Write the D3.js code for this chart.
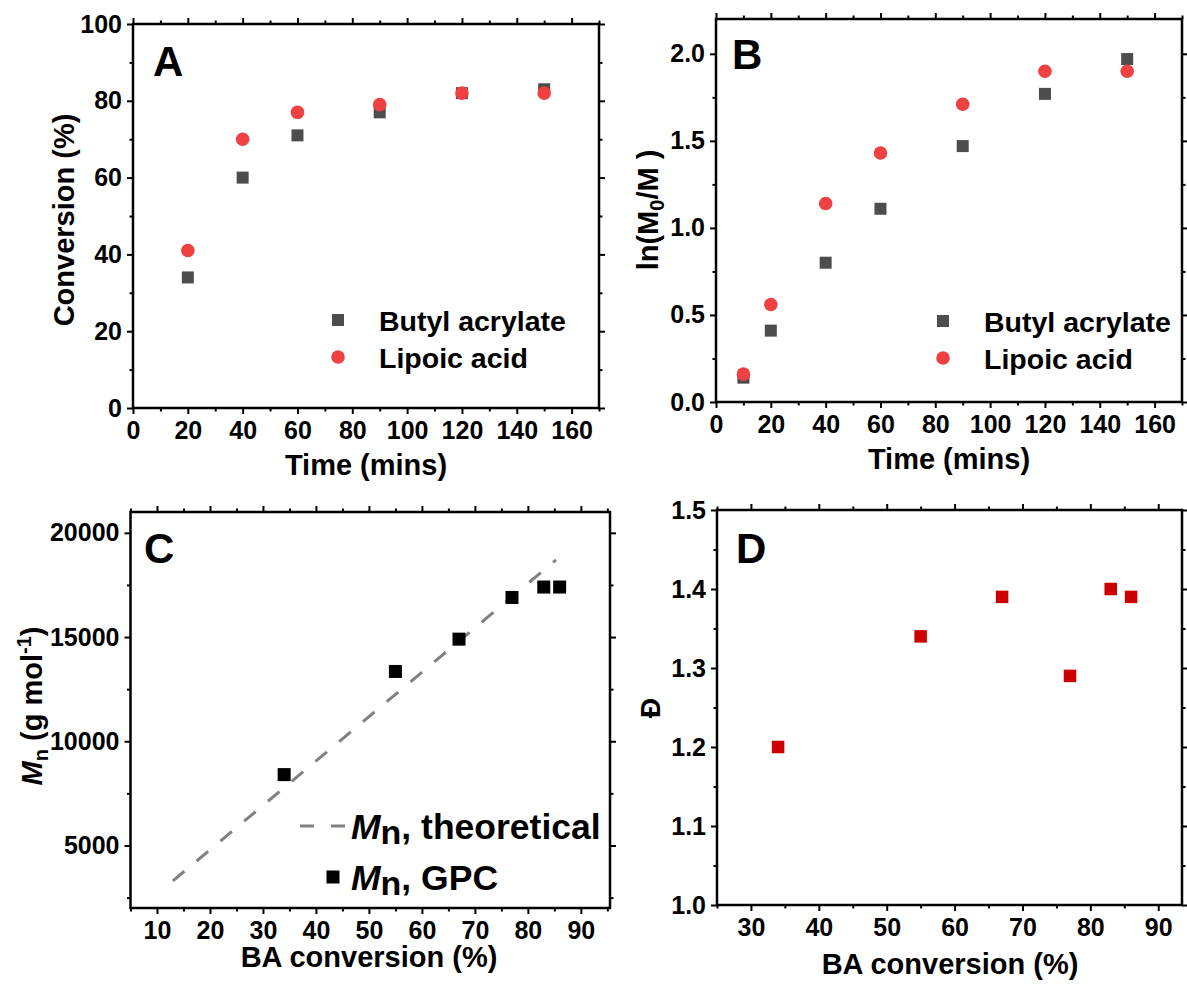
<!DOCTYPE html>
<html>
<head>
<meta charset="utf-8">
<script src="https://cdn.jsdelivr.net/npm/d3@7"></script>
<style>
  body { margin: 0; background: #fff; }
  svg { display: block; font-family: 'Liberation Sans', Arial, sans-serif; font-weight: bold; }
</style>
</head>
<body>
<svg id="chart" width="1187" height="989"></svg>
<script>
// Panel A: conversion vs time
const timeA = [20, 40, 60, 90, 120, 150];
const baConversionA = [34, 60, 71, 77, 82, 83];
const laConversionA = [41, 70, 77, 79, 82, 82];

// Panel B: ln(M0/M) vs time
const timeB = [10, 20, 40, 60, 90, 120, 150];
const baLnB = [0.14, 0.41, 0.80, 1.11, 1.47, 1.77, 1.97];
const laLnB = [0.16, 0.56, 1.14, 1.43, 1.71, 1.90, 1.90];

// Panels C and D: against BA conversion
const baConversion = [34, 55, 67, 77, 83, 86];
const mnGPC = [8400, 13350, 14900, 16900, 17400, 17400];
const mnTheoX = [13, 85.3];
const mnTheoY = [3300, 18700];
const dispersity = [1.20, 1.34, 1.39, 1.29, 1.40, 1.39];

// tick values
const timeTicks = [0, 20, 40, 60, 80, 100, 120, 140, 160];
const timeMinor = [10, 30, 50, 70, 90, 110, 130, 150, 170];
const convTicks = [0, 20, 40, 60, 80, 100];
const convMinor = [10, 30, 50, 70, 90];
const lnTicks = [0, 0.5, 1.0, 1.5, 2.0];
const lnMinor = [0.25, 0.75, 1.25, 1.75];
const baTicksC = [10, 20, 30, 40, 50, 60, 70, 80, 90];
const baMinorC = [5, 15, 25, 35, 45, 55, 65, 75, 85, 95];
const mnTicks = [5000, 10000, 15000, 20000];
const mnMinor = [2500, 7500, 12500, 17500];
const baTicksD = [30, 40, 50, 60, 70, 80, 90];
const baMinorD = [25, 35, 45, 55, 65, 75, 85];
const dTicks = [1.0, 1.1, 1.2, 1.3, 1.4, 1.5];
const dMinor = [1.05, 1.15, 1.25, 1.35, 1.45];

const svg = d3.select('#chart');
const GREY = '#4d4d4d', RED = '#ef4141', DARKRED = '#cc0000';

function drawPanel(p) {
    const x = d3.scaleLinear().domain(p.xDomain).range([p.left, p.right]);
    const y = d3.scaleLinear().domain(p.yDomain).range([p.bottom, p.top]);
    const g = svg.append('g');

    const sides = [
        [d3.axisBottom, `translate(0,${p.bottom})`, x, p.xMajor, p.xMinor, p.xFormat, 7],
        [d3.axisTop, `translate(0,${p.top})`, x, p.xMajor, p.xMinor, null, 0],
        [d3.axisLeft, `translate(${p.left},0)`, y, p.yMajor, p.yMinor, p.yFormat, 5],
        [d3.axisRight, `translate(${p.right},0)`, y, p.yMajor, p.yMinor, null, 0]
    ];
    sides.forEach(([axisFn, tr, scale, major, minor, fmt, pad]) => {
        g.append('g').attr('transform', tr)
            .call(axisFn(scale).tickValues(minor).tickSize(3.5).tickFormat(''));
        g.append('g').attr('transform', tr)
            .call(axisFn(scale).tickValues(major).tickSize(6).tickPadding(pad)
                .tickFormat(fmt ? fmt : ''));
    });
    g.selectAll('.domain').remove();
    g.selectAll('.tick line').attr('stroke', '#000').attr('stroke-width', 2);
    g.selectAll('.tick text')
        .attr('fill', '#000')
        .attr('font-size', '25px')
        .attr('font-family', "'Liberation Sans', Arial, sans-serif")
        .attr('font-weight', 'bold');

    // frame
    g.append('rect')
        .attr('x', p.left).attr('y', p.top)
        .attr('width', p.right - p.left).attr('height', p.bottom - p.top)
        .attr('fill', 'none').attr('stroke', '#000').attr('stroke-width', 2.5);

    // panel letter
    g.append('text')
        .attr('x', p.letterX).attr('y', p.letterY)
        .attr('font-size', '42px')
        .text(p.letter);

    return { x, y, g };
}

function squares(g, xs, ys, x, y, size, color) {
    g.selectAll(null)
        .data(xs.map((v, i) => [v, ys[i]]))
        .enter()
        .append('rect')
        .attr('x', d => x(d[0]) - size / 2)
        .attr('y', d => y(d[1]) - size / 2)
        .attr('width', size)
        .attr('height', size)
        .attr('fill', color);
}

function circles(g, xs, ys, x, y, r, color) {
    g.selectAll(null)
        .data(xs.map((v, i) => [v, ys[i]]))
        .enter()
        .append('circle')
        .attr('cx', d => x(d[0]))
        .attr('cy', d => y(d[1]))
        .attr('r', r)
        .attr('fill', color);
}

function yTitle(g, cx, cy) {
    return g.append('text')
        .attr('transform', `translate(${cx},${cy}) rotate(-90)`)
        .attr('text-anchor', 'middle')
        .attr('font-size', '29px');
}

function xTitle(g, cx, cy, label) {
    g.append('text')
        .attr('x', cx).attr('y', cy)
        .attr('text-anchor', 'middle')
        .attr('font-size', '29px')
        .text(label);
}

function scatterLegend(g, sx, tx, rows) {
    rows.forEach(r => {
        if (r.shape === 'square') {
            g.append('rect').attr('x', sx - 6).attr('y', r.y - 6)
                .attr('width', 12).attr('height', 12).attr('fill', r.color);
        } else {
            g.append('circle').attr('cx', sx).attr('cy', r.y).attr('r', 6.8).attr('fill', r.color);
        }
        g.append('text').attr('x', tx).attr('y', r.y + 11)
            .attr('font-size', '28.5px').text(r.label);
    });
}

// ---------- Panel A ----------
const A = drawPanel({
    left: 133, right: 599, top: 24, bottom: 408,
    xDomain: [0, 170], yDomain: [0, 100],
    xMajor: timeTicks, xMinor: timeMinor, yMajor: convTicks, yMinor: convMinor,
    xFormat: d3.format('d'), yFormat: d3.format('d'),
    letter: 'A', letterX: 153, letterY: 76
});
squares(A.g, timeA, baConversionA, A.x, A.y, 12, GREY);
circles(A.g, timeA, laConversionA, A.x, A.y, 6.8, RED);
yTitle(A.g, 74, 220).text('Conversion (%)');
xTitle(A.g, 366, 475, 'Time (mins)');
scatterLegend(A.g, 338, 379, [
    { shape: 'square', color: GREY, y: 320, label: 'Butyl acrylate' },
    { shape: 'circle', color: RED, y: 357, label: 'Lipoic acid' }
]);

// ---------- Panel B ----------
const B = drawPanel({
    left: 716, right: 1182, top: 19, bottom: 402,
    xDomain: [0, 170], yDomain: [0, 2.2],
    xMajor: timeTicks, xMinor: timeMinor, yMajor: lnTicks, yMinor: lnMinor,
    xFormat: d3.format('d'), yFormat: d3.format('.1f'),
    letter: 'B', letterX: 732, letterY: 69
});
squares(B.g, timeB, baLnB, B.x, B.y, 12, GREY);
circles(B.g, timeB, laLnB, B.x, B.y, 6.8, RED);
const tB = yTitle(B.g, 658, 210);
tB.append('tspan').text('ln(M');
tB.append('tspan').attr('font-size', '20px').attr('dy', 6).text('0');
tB.append('tspan').attr('dy', -6).text('/M )');
xTitle(B.g, 949, 469, 'Time (mins)');
scatterLegend(B.g, 943, 984, [
    { shape: 'square', color: GREY, y: 321, label: 'Butyl acrylate' },
    { shape: 'circle', color: RED, y: 358, label: 'Lipoic acid' }
]);

// ---------- Panel C ----------
const C = drawPanel({
    left: 130.5, right: 610, top: 512, bottom: 908,
    xDomain: [5, 95.5], yDomain: [2000, 21000],
    xMajor: baTicksC, xMinor: baMinorC, yMajor: mnTicks, yMinor: mnMinor,
    xFormat: d3.format('d'), yFormat: d3.format('d'),
    letter: 'C', letterX: 144, letterY: 563
});
C.g.append('path')
    .datum(mnTheoX.map((v, i) => [v, mnTheoY[i]]))
    .attr('d', d3.line().x(d => C.x(d[0])).y(d => C.y(d[1])))
    .attr('fill', 'none')
    .attr('stroke', '#808080')
    .attr('stroke-width', 3)
    .attr('stroke-dasharray', '15,16');
squares(C.g, baConversion, mnGPC, C.x, C.y, 13, '#000');
const tC = yTitle(C.g, 42, 706);
tC.append('tspan').attr('font-style', 'italic').text('M');
tC.append('tspan').attr('font-size', '20px').attr('dy', 6).text('n');
tC.append('tspan').attr('dy', -6).text(' (g mol');
tC.append('tspan').attr('font-size', '20px').attr('dy', -11).text('-1');
tC.append('tspan').attr('dy', 11).text(')');
xTitle(C.g, 369, 967, 'BA conversion (%)');

// legend C
C.g.append('line')
    .attr('x1', 300).attr('x2', 345).attr('y1', 826).attr('y2', 826)
    .attr('stroke', '#808080').attr('stroke-width', 3)
    .attr('stroke-dasharray', '14,17');
C.g.append('rect').attr('x', 326.5).attr('y', 870.5).attr('width', 13).attr('height', 13).attr('fill', '#000');
[['theoretical', 839], ['GPC', 890]].forEach(([lab, by]) => {
    const t = C.g.append('text').attr('x', 351).attr('y', by).attr('font-size', '35.5px');
    t.append('tspan').attr('font-style', 'italic').text('M');
    t.append('tspan').attr('font-size', '34px').attr('dy', 5).text('n');
    t.append('tspan').attr('dy', -5).text(', ' + lab);
});

// ---------- Panel D ----------
const D = drawPanel({
    left: 717, right: 1182, top: 510, bottom: 905,
    xDomain: [25, 93.5], yDomain: [1.0, 1.5],
    xMajor: baTicksD, xMinor: baMinorD, yMajor: dTicks, yMinor: dMinor,
    xFormat: d3.format('d'), yFormat: d3.format('.1f'),
    letter: 'D', letterX: 736, letterY: 563
});
squares(D.g, baConversion, dispersity, D.x, D.y, 12.5, DARKRED);
yTitle(D.g, 660, 708).attr('font-size', '28px').text('Đ');
xTitle(D.g, 950, 974, 'BA conversion (%)');
</script>
</body>
</html>
